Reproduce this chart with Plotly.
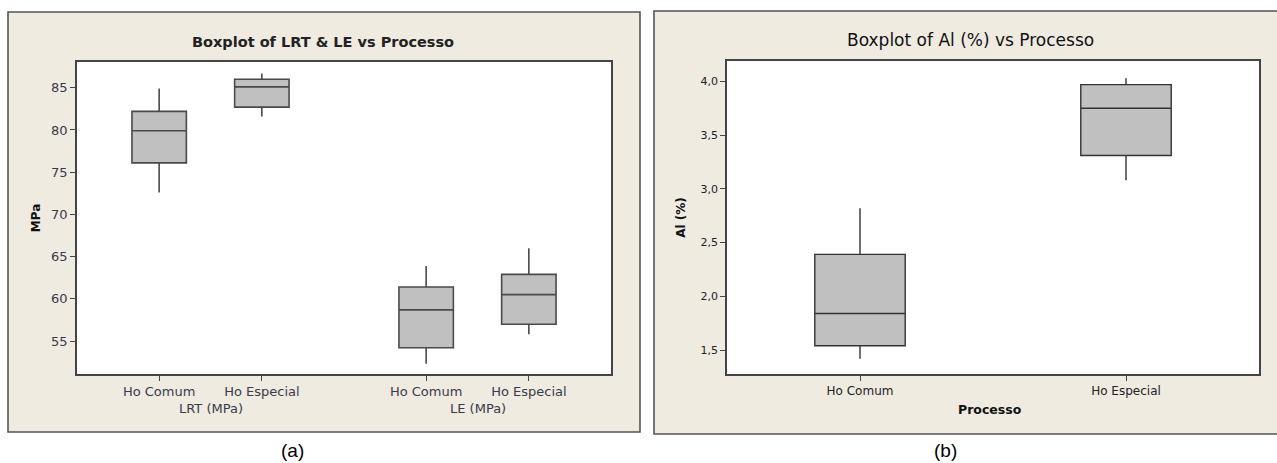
import plotly.graph_objects as go

W, H = 1277, 463

# ---- Panel (a) data: LRT & LE (MPa) ----
a_positions = [1, 2, 3.6, 4.6]
a_cats = ["Ho Comum", "Ho Especial", "Ho Comum", "Ho Especial"]
a_groups = ["LRT (MPa)", "LE (MPa)"]
a_low = [72.6, 81.6, 52.3, 55.8]
a_q1 = [76.1, 82.7, 54.2, 57.0]
a_med = [79.9, 85.1, 58.7, 60.5]
a_q3 = [82.2, 86.0, 61.4, 62.9]
a_high = [84.9, 86.7, 63.9, 66.0]
a_yticks = [55, 60, 65, 70, 75, 80, 85]

# ---- Panel (b) data: Al (%) ----
b_positions = [1, 2]
b_cats = ["Ho Comum", "Ho Especial"]
b_low = [1.42, 3.08]
b_q1 = [1.54, 3.31]
b_med = [1.84, 3.75]
b_q3 = [2.39, 3.97]
b_high = [2.82, 4.03]
b_yticks = [1.5, 2.0, 2.5, 3.0, 3.5, 4.0]
b_yticktext = ["1,5", "2,0", "2,5", "3,0", "3,5", "4,0"]

def px_x(p):
    return p / W

def px_y(p):
    return 1 - p / H

fig = go.Figure()

for i in range(len(a_positions)):
    fig.add_trace(go.Box(
        x=[a_positions[i]], q1=[a_q1[i]], median=[a_med[i]], q3=[a_q3[i]],
        lowerfence=[a_low[i]], upperfence=[a_high[i]],
        width=0.53, whiskerwidth=0, fillcolor="#C0C0C0",
        line=dict(color="#4a4a4a", width=1.6),
        xaxis="x", yaxis="y", showlegend=False, hoverinfo="skip",
        boxpoints=False,
    ))

for i in range(len(b_positions)):
    fig.add_trace(go.Box(
        x=[b_positions[i]], q1=[b_q1[i]], median=[b_med[i]], q3=[b_q3[i]],
        lowerfence=[b_low[i]], upperfence=[b_high[i]],
        width=0.34, whiskerwidth=0, fillcolor="#C0C0C0",
        line=dict(color="#333333", width=1.4),
        xaxis="x2", yaxis="y2", showlegend=False, hoverinfo="skip",
        boxpoints=False,
    ))

frame_col = "#555555"
beige = "#EFEBE1"
shapes = []
for (x0, y0, x1, y1) in [(8, 12, 640, 432), (654, 11, 1282, 434)]:
    shapes.append(dict(type="rect", xref="paper", yref="paper",
                       x0=px_x(x0), x1=px_x(x1), y0=px_y(y1), y1=px_y(y0),
                       fillcolor=beige, line=dict(color=frame_col, width=1.6),
                       layer="below"))
for (x0, y0, x1, y1) in [(77, 62, 611, 374), (727, 61, 1259, 374)]:
    shapes.append(dict(type="rect", xref="paper", yref="paper",
                       x0=px_x(x0), x1=px_x(x1), y0=px_y(y1), y1=px_y(y0),
                       fillcolor="white", line=dict(width=0),
                       layer="below"))

axis_common = dict(showgrid=False, zeroline=False, showline=True, mirror=True,
                   linecolor="#444444", linewidth=1.6, ticks="outside",
                   ticklen=5, tickwidth=1.3, tickcolor="#444444")

tick_font_a = dict(family="DejaVu Sans", size=13, color="#3a3a4a")
tick_font_ay = dict(family="DejaVu Sans", size=13, color="#3a3a4a")
tick_font_b = dict(family="DejaVu Sans", size=12, color="#222222")
tick_font_by = dict(family="DejaVu Sans", size=11, color="#222222")

fig.update_layout(
    width=W, height=H,
    margin=dict(l=0, r=0, t=0, b=0),
    paper_bgcolor="white",
    plot_bgcolor="rgba(0,0,0,0)",
    shapes=shapes,
    xaxis=dict(domain=[px_x(77), px_x(611)], range=[0.2, 5.4],
               tickvals=a_positions, ticktext=a_cats, tickfont=tick_font_a,
               anchor="y", **axis_common),
    yaxis=dict(domain=[px_y(374), px_y(62)], range=[51.1, 88.05],
               tickvals=a_yticks, tickfont=tick_font_ay, anchor="x",
               title=dict(text="<b>MPa</b>", font=dict(family="DejaVu Sans", size=12, color="#111111"),
                          standoff=8),
               **axis_common),
    xaxis2=dict(domain=[px_x(727), px_x(1259)], range=[0.5, 2.5],
                tickvals=b_positions, ticktext=b_cats, tickfont=tick_font_b,
                anchor="y2", **axis_common),
    yaxis2=dict(domain=[px_y(374), px_y(61)], range=[1.277, 4.19],
                tickvals=b_yticks, ticktext=b_yticktext, tickfont=tick_font_by,
                anchor="x2",
                title=dict(text="<b>Al (%)</b>", font=dict(family="DejaVu Sans", size=12, color="#111111"),
                           standoff=12),
                **axis_common),
)

def ann(text, x, y, font, xref="paper"):
    return dict(text=text, xref=xref, yref="paper", x=x, y=y, showarrow=False,
                xanchor="center", yanchor="middle", font=font)

annotations = [
    ann("<b>Boxplot of LRT & LE vs Processo</b>", px_x(323), px_y(42),
        dict(family="DejaVu Sans", size=14.5, color="#222222")),
    ann("Boxplot of Al (%) vs Processo", px_x(970), px_y(40),
        dict(family="DejaVu Sans", size=17, color="#111111")),
    ann("<b>Processo</b>", px_x(990), px_y(409),
        dict(family="DejaVu Sans", size=12.5, color="#111111")),
    ann(a_groups[0], (a_positions[0] + a_positions[1]) / 2, px_y(408), tick_font_a, xref="x"),
    ann(a_groups[1], (a_positions[2] + a_positions[3]) / 2, px_y(408), tick_font_a, xref="x"),
    ann("(a)", px_x(292), px_y(450), dict(family="Liberation Sans", size=19, color="#000000")),
    ann("(b)", px_x(945), px_y(450), dict(family="Liberation Sans", size=19, color="#000000")),
]
fig.update_layout(annotations=annotations)

fig.write_html("out.html", config={"displayModeBar": False},
               post_script="document.body.style.margin='0px';document.body.style.padding='0px';")
